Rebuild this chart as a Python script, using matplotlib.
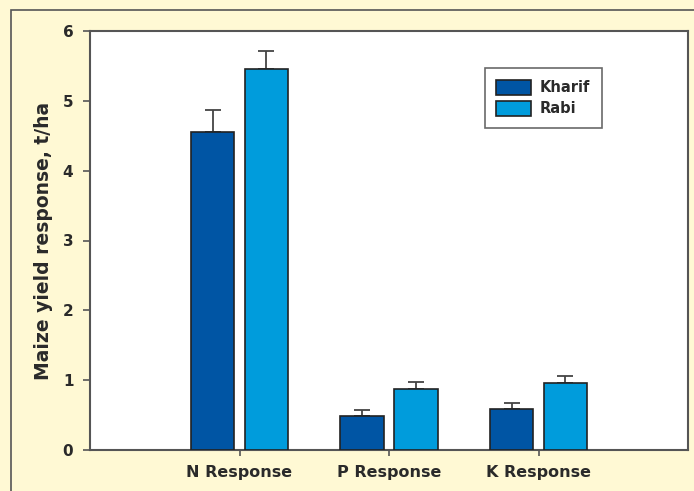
import matplotlib.pyplot as plt
import matplotlib.patches as mpatches
import numpy as np

plt.rcParams['font.family'] = ['DejaVu Sans']

categories = ['N Response', 'P Response', 'K Response']
kharif = [4.56, 0.48, 0.58]
kharif_err = [0.31, 0.09, 0.09]
rabi = [5.46, 0.88, 0.96]
rabi_err = [0.26, 0.09, 0.10]

bg = '#fff9d4'
c_kharif = '#0055a4'
c_rabi = '#009cdc'
txt = '#2a2a2a'

fig = plt.figure(figsize=(6.94, 4.91), dpi=100)
fig.patch.set_facecolor(bg)

# outer frame (cut off at right/bottom like the original)
frame = mpatches.Rectangle((11 / 694, -0.05), 1.0, 1 - 10 / 491 + 0.05,
                           transform=fig.transFigure, fill=False,
                           edgecolor='#555555', lw=1.2, clip_on=False)
fig.patches.append(frame)

ax = fig.add_axes([90 / 694, 1 - 450 / 491, 598 / 694, 419 / 491])
ax.set_facecolor('white')

x = np.arange(len(categories))
w = 0.29
off = 0.18
ax.bar(x - off, kharif, w, color=c_kharif, edgecolor='#222222', lw=1.2,
       label='Kharif', zorder=3)
ax.bar(x + off, rabi, w, color=c_rabi, edgecolor='#222222', lw=1.2,
       label='Rabi', zorder=3)
ax.errorbar(x - off, kharif, yerr=[np.zeros(3), kharif_err], fmt='none',
            ecolor='#444444', elinewidth=1.3, capsize=5.5, capthick=1.3, zorder=2)
ax.errorbar(x + off, rabi, yerr=[np.zeros(3), rabi_err], fmt='none',
            ecolor='#444444', elinewidth=1.3, capsize=5.5, capthick=1.3, zorder=2)

ax.set_xlim(-1, 3)
ax.set_ylim(0, 6)
ax.set_xticks(x)
ax.set_xticklabels(categories, fontsize=11.5, fontweight='bold', color=txt)
ax.set_yticks(range(7))
ax.set_yticklabels([str(i) for i in range(7)], fontsize=11,
                   fontweight='bold', color=txt)
ax.tick_params(axis='y', length=5, width=1.2, color='#555555', pad=7)
ax.tick_params(axis='x', length=4, width=1.2, color='#555555', pad=7)
for s in ax.spines.values():
    s.set_color('#555555')
    s.set_linewidth(1.5)

ax.set_ylabel('Maize yield response, t/ha', fontsize=13.5, fontweight='bold',
              color=txt, labelpad=7)

leg = ax.legend(loc='upper left', bbox_to_anchor=(0.66, 0.912), fontsize=10.5,
                frameon=True, fancybox=False, handlelength=2.4,
                handleheight=1.3, borderpad=0.8, labelspacing=0.35,
                handletextpad=0.6, borderaxespad=0)
leg.get_frame().set_edgecolor('#444444')
leg.get_frame().set_linewidth(1.2)
for t in leg.get_texts():
    t.set_fontweight('bold')
    t.set_color(txt)

fig.savefig('out.png', dpi=100, facecolor=bg)
